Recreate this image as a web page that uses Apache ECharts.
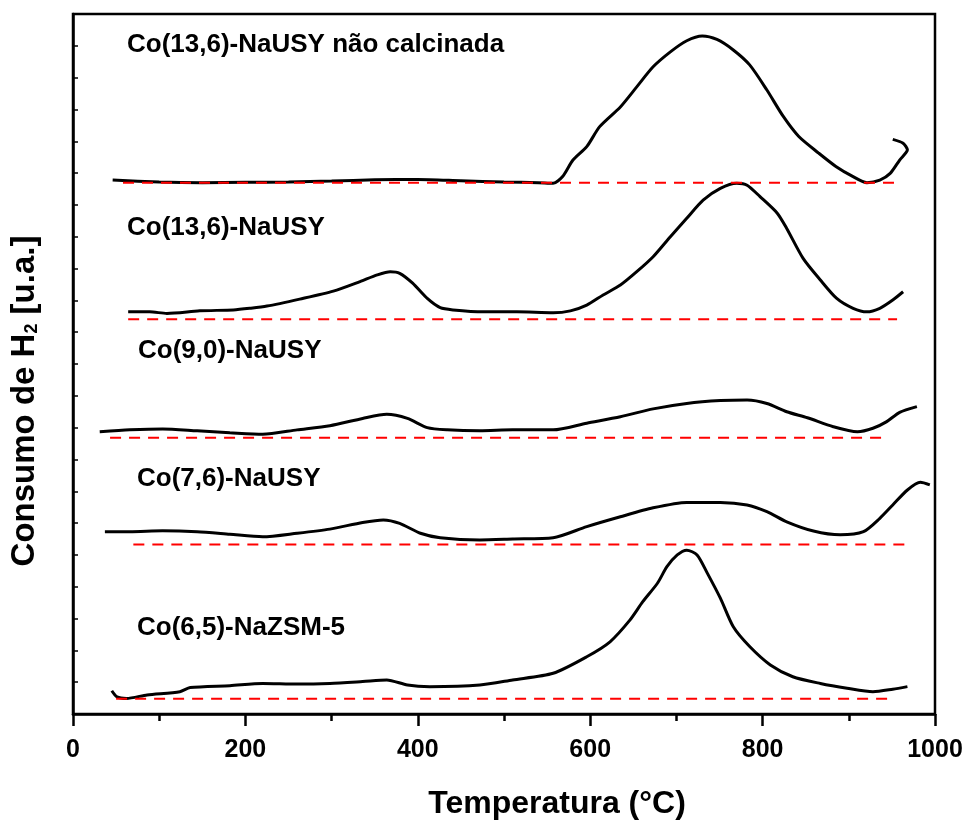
<!DOCTYPE html>
<html>
<head>
<meta charset="utf-8">
<title>Consumo de H2 - TPR</title>
<script src="https://cdn.jsdelivr.net/npm/echarts@6/dist/echarts.min.js"></script>
<style>
    html, body { margin: 0; padding: 0; background: #fff; }
    #chart { width: 968px; height: 821px; }
</style>
</head>
<body>
<div id="chart"></div>
<script>
    // amostras, de cima para baixo
    var sampleNames = ['Co(13,6)-NaUSY não calcinada', 'Co(13,6)-NaUSY', 'Co(9,0)-NaUSY', 'Co(7,6)-NaUSY', 'Co(6,5)-NaZSM-5'];

    // Co(13,6)-NaUSY não calcinada
    var tempNaoCalc = [46, 100, 150, 200, 250, 300, 350, 400, 450, 500, 540, 557, 568, 580, 596, 611, 635, 654, 673, 693,
        712, 730, 747, 766, 785, 805, 824, 842, 865, 885, 905, 921, 936, 948, 959, 968, 963, 951];
    var h2NaoCalc = [16.78, 16.72, 16.70, 16.71, 16.72, 16.75, 16.79, 16.80, 16.76, 16.72, 16.70, 16.68, 16.89, 17.41, 17.83, 18.46, 19.08, 19.71, 20.34, 20.81,
        21.16, 21.31, 21.20, 20.87, 20.40, 19.61, 18.78, 18.15, 17.63, 17.21, 16.89, 16.70, 16.78, 16.99, 17.41, 17.73, 17.94, 18.06];

    // Co(13,6)-NaUSY
    var temp136 = [64, 89, 109, 147, 186, 205, 225, 263, 302, 333, 353, 368, 379, 394, 411, 426, 441, 476, 515, 557,
        577, 596, 615, 635, 654, 673, 693, 712, 731, 751, 770, 782, 797, 817, 828, 847, 867, 886, 905, 921, 936, 951, 963];
    var h2136 = [12.64, 12.64, 12.59, 12.67, 12.70, 12.75, 12.82, 13.04, 13.29, 13.59, 13.80, 13.90, 13.85, 13.54, 13.06, 12.77, 12.70, 12.64, 12.64, 12.61,
        12.67, 12.85, 13.17, 13.48, 13.90, 14.37, 15.00, 15.58, 16.15, 16.52, 16.68, 16.62, 16.26, 15.74, 15.26, 14.32, 13.64, 13.06, 12.75, 12.64, 12.75, 13.01, 13.27];

    // Co(9,0)-NaUSY
    var temp90 = [31, 66, 104, 144, 182, 220, 260, 298, 336, 364, 388, 411, 434, 472, 510,
        557, 596, 635, 673, 712, 751, 782, 805, 828, 852, 882, 910, 928, 944, 959, 979];
    var h290 = [8.87, 8.93, 8.96, 8.90, 8.84, 8.79, 8.93, 9.06, 9.29, 9.42, 9.29, 9.00, 8.93, 8.90, 8.93,
        8.93, 9.14, 9.34, 9.59, 9.76, 9.85, 9.87, 9.76, 9.50, 9.31, 9.03, 8.87, 8.98, 9.19, 9.48, 9.66];

    // Co(7,6)-NaUSY
    var temp76 = [37, 66, 104, 144, 182, 220, 260, 298, 336, 360, 379, 403, 426, 472, 510, 557,
        596, 635, 673, 712, 751, 782, 805, 828, 859, 890, 917, 936, 951, 968, 983, 994];
    var h276 = [5.73, 5.73, 5.76, 5.73, 5.65, 5.57, 5.68, 5.81, 6.02, 6.10, 5.99, 5.68, 5.54, 5.47, 5.50, 5.54,
        5.89, 6.20, 6.48, 6.65, 6.65, 6.57, 6.36, 6.04, 5.75, 5.63, 5.73, 6.15, 6.57, 7.04, 7.28, 7.20];

    // Co(6,5)-NaZSM-5
    var tempZsm = [45, 51, 62, 86, 124, 136, 182, 220, 260, 298, 336, 364, 388, 414, 472, 510, 557, 596, 623,
        646, 661, 678, 689, 701, 712, 724, 736, 751, 766, 785, 809, 835, 867, 898, 928, 951, 968];
    var h2Zsm = [0.73, 0.54, 0.49, 0.60, 0.70, 0.83, 0.89, 0.96, 0.94, 0.96, 1.02, 1.07, 0.91, 0.86, 0.91, 1.07, 1.28, 1.80, 2.27,
        2.95, 3.53, 4.11, 4.63, 5.00, 5.15, 5.00, 4.42, 3.64, 2.74, 2.12, 1.54, 1.17, 0.96, 0.81, 0.70, 0.78, 0.86];

    // linhas de base (tracejado vermelho): nivel e faixa de temperatura
    var baseLevel = [16.70, 12.41, 8.68, 5.33, 0.48];
    var baseStart = [58, 64, 43, 70, 50];
    var baseEnd = [953, 956, 938, 965, 947];

    var FONT = '"Liberation Sans", Arial, Helvetica, sans-serif';

    function pairs(xs, ys) {
        return xs.map(function (x, i) { return [x, ys[i]]; });
    }

    function curve(name, xs, ys) {
        return {
            name: name,
            type: 'line',
            data: pairs(xs, ys),
            symbol: 'none',
            smooth: 0.25,
            lineStyle: { color: '#000', width: 3 },
            z: 2
        };
    }

    function baseline(i) {
        return {
            type: 'line',
            data: [[baseStart[i], baseLevel[i]], [baseEnd[i], baseLevel[i]]],
            symbol: 'none',
            lineStyle: { color: '#ff0000', width: 2, type: [11, 8] },
            z: 3
        };
    }

    // posicao dos rotulos das amostras (px)
    var labelPos = [[127, 45], [127, 228], [138, 351], [137, 479], [137, 628]];

    var series = [
        curve(sampleNames[0], tempNaoCalc, h2NaoCalc),
        curve(sampleNames[1], temp136, h2136),
        curve(sampleNames[2], temp90, h290),
        curve(sampleNames[3], temp76, h276),
        curve(sampleNames[4], tempZsm, h2Zsm)
    ];
    for (var i = 0; i < baseLevel.length; i++) {
        series.push(baseline(i));
    }

    var graphic = sampleNames.map(function (name, i) {
        return {
            type: 'text',
            x: labelPos[i][0],
            y: labelPos[i][1],
            style: {
                text: name,
                fontFamily: FONT, fontSize: 26, fontWeight: 'bold',
                fill: '#000', align: 'left', verticalAlign: 'middle'
            }
        };
    });
    graphic.push({
        type: 'text',
        x: 557, y: 804,
        style: {
            text: 'Temperatura (°C)',
            fontFamily: FONT, fontSize: 32, fontWeight: 'bold',
            fill: '#000', align: 'center', verticalAlign: 'middle'
        }
    });
    graphic.push({
        type: 'text',
        x: 25, y: 401,
        rotation: Math.PI / 2,
        style: {
            text: '{main|Consumo de H}{sub|2}{main| [u.a.]}',
            fontFamily: FONT, fontSize: 33, fontWeight: 'bold',
            fill: '#000', align: 'center', verticalAlign: 'middle',
            rich: {
                main: { fontFamily: FONT, fontSize: 33, fontWeight: 'bold', lineHeight: 33, verticalAlign: 'middle' },
                sub: { fontFamily: FONT, fontSize: 18, fontWeight: 'bold', lineHeight: 10, verticalAlign: 'bottom' }
            }
        }
    });

    var chart = echarts.init(document.getElementById('chart'));
    chart.setOption({
        animation: false,
        backgroundColor: '#fff',
        grid: {
            left: 73, right: 33, top: 14, bottom: 107,
            show: true, borderColor: '#000', borderWidth: 2.5
        },
        xAxis: {
            type: 'value',
            min: 0, max: 1000, interval: 200,
            axisLine: { show: true, onZero: false, lineStyle: { color: '#000', width: 2.5 } },
            axisTick: { show: true, length: 12, lineStyle: { color: '#000', width: 2.5 } },
            minorTick: { show: true, splitNumber: 2, length: 7, lineStyle: { color: '#000', width: 2.5 } },
            axisLabel: {
                color: '#000', fontFamily: FONT, fontSize: 25, fontWeight: 'bold', margin: 24,
                formatter: function (v) { return String(v); }
            },
            splitLine: { show: false }
        },
        yAxis: {
            type: 'value',
            min: 0, max: 22, interval: 1,
            axisLine: { show: true, lineStyle: { color: '#000', width: 2.5 } },
            axisTick: { show: true, inside: true, length: 5, lineStyle: { color: '#000', width: 1.5 } },
            axisLabel: { show: false },
            splitLine: { show: false }
        },
        graphic: graphic,
        series: series
    });
</script>
</body>
</html>
